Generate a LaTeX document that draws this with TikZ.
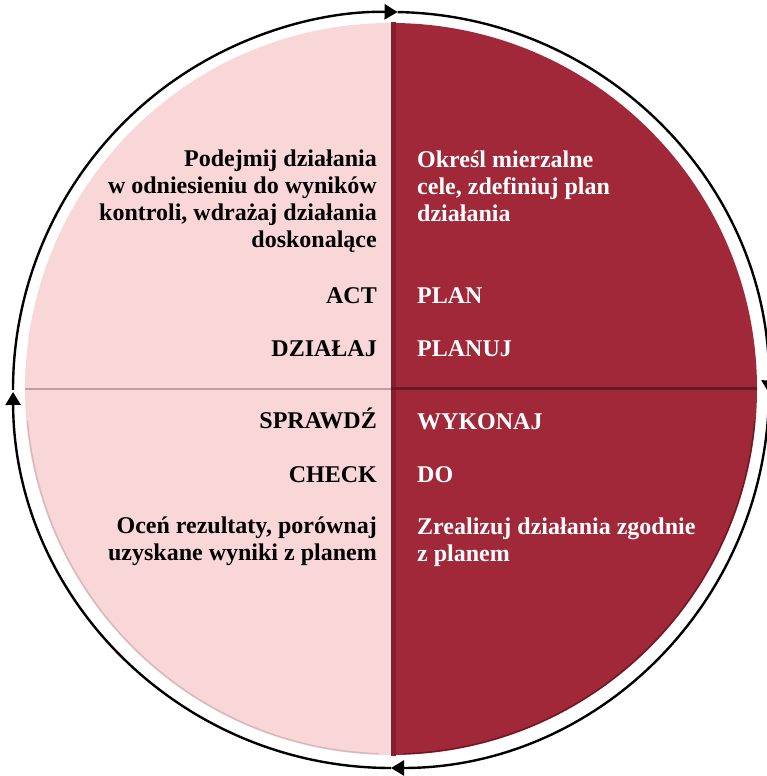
\documentclass[tikz,border=0pt]{standalone}
\usepackage{fontspec}
\setmainfont{Liberation Serif}
\usetikzlibrary{arrows.meta}
\definecolor{pinkq}{RGB}{249,214,216}
\definecolor{redq}{RGB}{161,40,56}
\definecolor{pinkline}{RGB}{190,160,163}
\definecolor{redline}{RGB}{105,25,35}
\definecolor{redshade}{RGB}{135,30,44}
\definecolor{pinkrim}{RGB}{215,185,188}
\tikzset{
  lbl/.style={inner sep=0pt, font=\fontsize{24}{27}\selectfont\bfseries},
  ltxt/.style={lbl, text=black, anchor=base east, align=right},
  rtxt/.style={lbl, text=white, anchor=base west, align=left},
  cyc/.style={line width=2.4pt, -{Triangle[length=13pt,width=15pt]}},
}
\begin{document}
\begin{tikzpicture}[x=1pt,y=1pt]
\useasboundingbox (0,0) rectangle (767,776);
\coordinate (c) at (391,386);
\coordinate (p) at (391,387);
% quadrants
\fill[redq] (p) -- ++(0:366) arc[start angle=0,end angle=90,radius=366] -- cycle;
\fill[pinkq] (p) -- ++(90:366) arc[start angle=90,end angle=180,radius=366] -- cycle;
\fill[pinkq] (p) -- ++(180:366) arc[start angle=180,end angle=270,radius=366] -- cycle;
\fill[redq] (p) -- ++(270:366) arc[start angle=270,end angle=360,radius=366] -- cycle;
% rims
\draw[pinkrim, line width=1.5pt] (p) ++(185:365) arc[start angle=185,end angle=268,radius=365];
\draw[redline, line width=1.2pt] (p) ++(272:365) arc[start angle=272,end angle=355,radius=365];
% dividers
\draw[redshade, line width=5pt] (393.5,754) -- (393.5,20);
\draw[white, opacity=0.35, line width=1pt] (389.5,753) -- (389.5,21);
\draw[pinkline, line width=2.5pt] (25,387) -- (391,387);
\draw[redline, line width=3pt] (391,387) -- (757,387);
% cycle circle with arrows
\draw[cyc] (c) ++(180:378) arc[start angle=180,end angle=89,radius=378];
\draw[cyc] (c) ++(89:378) arc[start angle=89,end angle=-0.5,radius=378];
\draw[cyc] (c) ++(-0.5:378) arc[start angle=-0.5,end angle=-90,radius=378];
\draw[cyc] (c) ++(-90:378) arc[start angle=-90,end angle=-179.7,radius=378];
% texts left (base = last line)
\node[ltxt] (actdesc) at (377,528) {Podejmij działania\\w odniesieniu do wyników\\kontroli, wdrażaj działania\\doskonalące};
\node[ltxt] (act) at (377,472) {ACT};
\node[ltxt] (dzialaj) at (377,419) {DZIAŁAJ};
\node[ltxt] (sprawdz) at (377,347) {SPRAWDŹ};
\node[ltxt] (check) at (377,293) {CHECK};
\node[ltxt] (checkdesc) at (377,215) {Oceń rezultaty, porównaj\\uzyskane wyniki z planem};
% texts right
\node[rtxt] (plandesc) at (417,554) {Określ mierzalne\\cele, zdefiniuj plan\\działania};
\node[rtxt] (plan) at (417,472) {PLAN};
\node[rtxt] (planuj) at (417,419) {PLANUJ};
\node[rtxt] (wykonaj) at (417,346) {WYKONAJ};
\node[rtxt] (do) at (417,293) {DO};
\node[rtxt] (dodesc) at (417,214) {Zrealizuj działania zgodnie\\z planem};
\end{tikzpicture}
\end{document}
